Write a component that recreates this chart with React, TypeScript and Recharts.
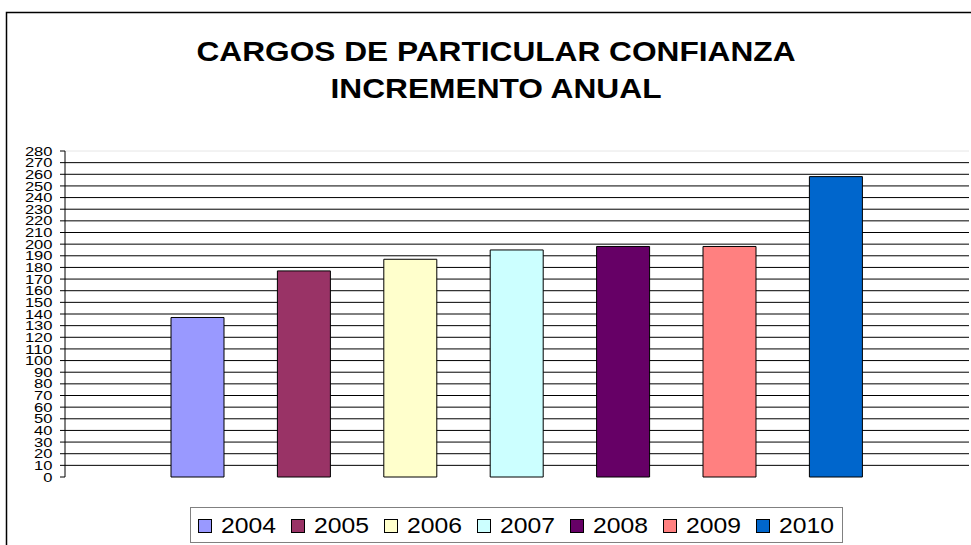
import React from "react";
import { BarChart, Bar, XAxis, YAxis, CartesianGrid, Legend, ReferenceLine } from "recharts";

const YEARS = ["2004", "2005", "2006", "2007", "2008", "2009", "2010"];
const VALUES = [137, 177, 187, 195, 198, 198, 258];
const COLORS = ["#9999FF", "#993366", "#FFFFCC", "#CCFFFF", "#660066", "#FF8080", "#0066CC"];
const Y_TICKS = Array.from({ length: 29 }, (_, i) => i * 10);
const GRID_VALUES = Y_TICKS.filter((v) => v > 0 && v < 280);
const TITLE_LINES = ["CARGOS DE PARTICULAR CONFIANZA", "INCREMENTO ANUAL"];

const row: Record<string, string | number> = { name: "Cargos" };
YEARS.forEach((y, i) => {
  row[y] = VALUES[i];
});
const data = [row];

const FONT = "'Liberation Sans', Arial, sans-serif";

const YTick = (props: any) => {
  const { x, y, payload } = props;
  const s = String(payload.value);
  return (
    <text
      x={x}
      y={y}
      dy={4.6}
      textAnchor="end"
      fontSize={13}
      fontFamily={FONT}
      fill="#000"
      textLength={s.length * 9.2}
      lengthAdjust="spacingAndGlyphs"
    >
      {s}
    </text>
  );
};

const LegendContent = () => (
  <svg width={653} height={36} style={{ display: "block" }}>
    <rect x={0.5} y={0.5} width={652} height={35} fill="#fff" stroke="#808080" strokeWidth={1} />
    {YEARS.map((y, i) => (
      <g key={y}>
        <rect x={8.5 + i * 93} y={12.5} width={13} height={13} fill={COLORS[i]} stroke="#000" strokeWidth={1} />
        <text
          x={31 + i * 93}
          y={26}
          fontSize={21.5}
          fontFamily={FONT}
          fill="#000"
          textLength={55}
          lengthAdjust="spacingAndGlyphs"
        >
          {y}
        </text>
      </g>
    ))}
  </svg>
);

export default function App() {
  return (
    <div style={{ position: "absolute", left: 0, top: 0, width: 971, height: 545, background: "#fff", overflow: "hidden" }}>
      <BarChart
        width={971}
        height={545}
        data={data}
        margin={{ top: 151, right: 2, bottom: 68, left: 0 }}
        barGap={53.4}
      >
        <CartesianGrid vertical={false} stroke="#000" strokeWidth={1} horizontalValues={GRID_VALUES} />
        <ReferenceLine y={280} stroke="#e6e6e6" strokeWidth={1} />
        <XAxis dataKey="name" height={0} tick={false} axisLine={{ stroke: "#000" }} tickLine={false} />
        <YAxis
          width={65}
          domain={[0, 280]}
          ticks={Y_TICKS}
          interval={0}
          tickSize={5}
          tickMargin={7.5}
          axisLine={{ stroke: "#000" }}
          tickLine={{ stroke: "#000" }}
          tick={<YTick />}
        />
        <Legend
          layout="horizontal"
          verticalAlign="middle"
          align="center"
          content={<LegendContent />}
          wrapperStyle={{ left: 190, top: 507, width: 653, height: 36 }}
        />
        {YEARS.map((y, i) => (
          <Bar
            key={y}
            dataKey={y}
            name={y}
            fill={COLORS[i]}
            stroke="#000"
            strokeWidth={1}
            barSize={53}
            isAnimationActive={false}
          />
        ))}
      </BarChart>
      <svg
        width={971}
        height={545}
        style={{ position: "absolute", left: 0, top: 0, pointerEvents: "none" }}
      >
        <path d="M6.5,545 V12.5 H971" fill="none" stroke="#000" strokeWidth={1.5} />
        <text
          x={496}
          y={61}
          textAnchor="middle"
          fontSize={28}
          fontWeight="bold"
          fontFamily={FONT}
          fill="#000"
          textLength={599}
          lengthAdjust="spacingAndGlyphs"
        >
          {TITLE_LINES[0]}
        </text>
        <text
          x={496}
          y={97.5}
          textAnchor="middle"
          fontSize={28}
          fontWeight="bold"
          fontFamily={FONT}
          fill="#000"
          textLength={331}
          lengthAdjust="spacingAndGlyphs"
        >
          {TITLE_LINES[1]}
        </text>
      </svg>
    </div>
  );
}
